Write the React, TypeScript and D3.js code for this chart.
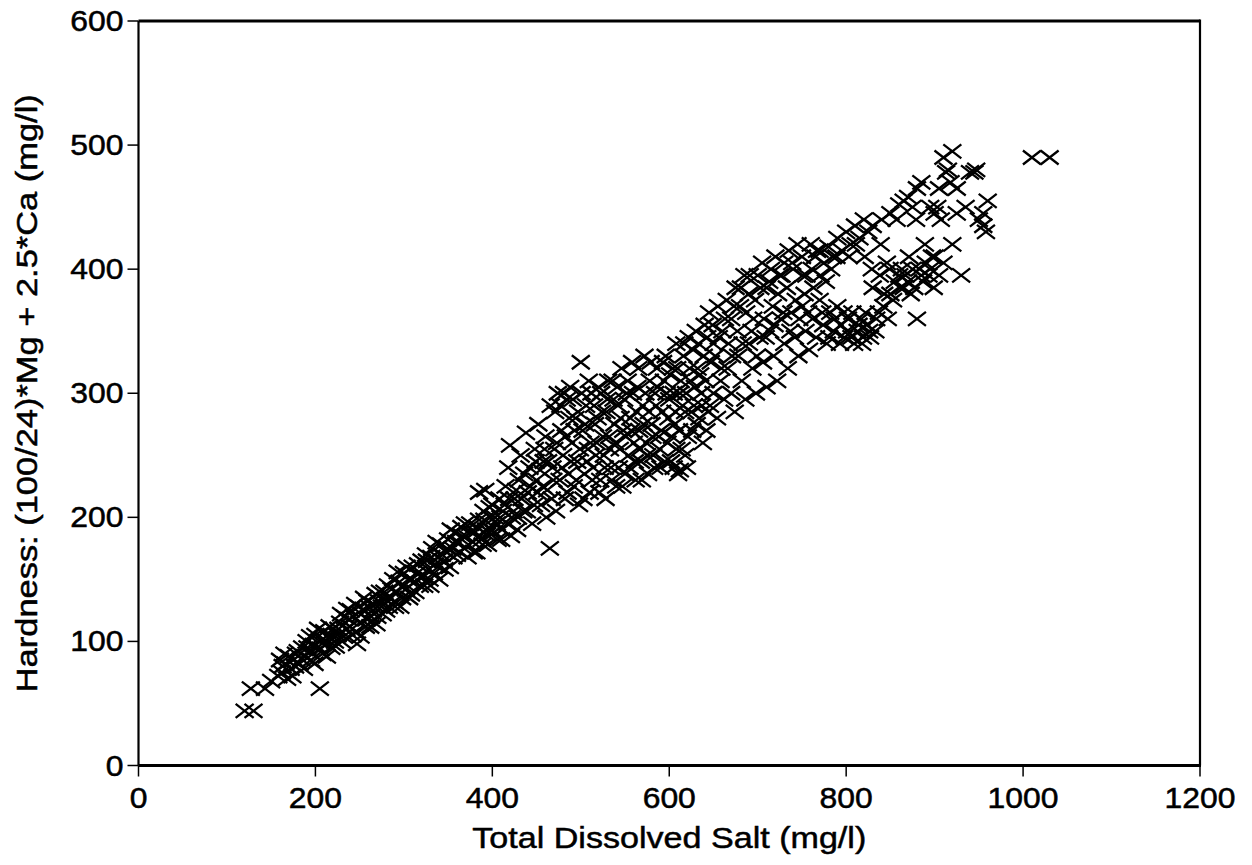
import React from "react";
import * as d3 from "d3";

const xTicks = [0, 200, 400, 600, 800, 1000, 1200];
const yTicks = [0, 100, 200, 300, 400, 500, 600];
const xTitle = "Total Dissolved Salt (mg/l)";
const yTitle = "Hardness: (100/24)*Mg + 2.5*Ca (mg/l)";

// [TDS, Hardness] samples, grouped by region
const lowerTail: [number, number][] = [
  [120,44],[130,44],[127,62],[143,62],[205,62],
  [150,68],[158,72],[163,80],[168,70],[172,78],[175,85],[170,88],[178,90],[182,82],[185,95],[188,88],[190,100],[193,92],[195,85],[198,97],[200,105],[202,95],[205,100],[208,90],[210,108],[212,98],[215,103],[218,95],[220,110],[222,100],[160,85],[165,90],
];
const lowerBand: [number, number][] = [
  [225,105],[228,115],[230,100],[233,120],[235,110],[238,118],[240,125],[242,105],[245,130],[247,98],[250,115],[252,122],[255,135],[258,118],[260,128],[262,112],[265,125],[268,138],[270,120],[272,132],[275,128],[278,140],[280,125],[282,145],[285,135],[288,150],[290,128],[292,140],[295,148],[298,135],[300,155],[302,142],[305,150],[308,138],[310,160],[312,148],[315,155],[318,145],[320,165],[322,152],[325,170],[328,158],[330,145],[332,175],[335,162],[338,168],[340,150],[342,178],[345,165],[348,172],[350,182],[352,160],[355,175],[358,188],[360,170],[362,180],[365,192],[368,175],[370,185],[372,168],[375,195],[378,180],[380,188],[382,172],[385,220],[392,222],[385,198],[388,182],[390,205],[393,190],[395,178],[398,200],[400,210],[402,188],[405,195],[408,215],[410,182],[412,205],
];
const lowerBandExtra: [number, number][] = [
  [162,75],[166,82],[174,72],[177,80],[180,92],[184,86],[187,78],[191,95],[194,104],[197,90],[199,82],[203,110],[206,94],[209,102],[213,88],[216,112],[219,104],[223,96],[226,110],[229,122],[232,104],[236,126],[239,112],[243,120],[246,108],[249,128],[251,104],[254,126],[257,112],[259,132],[263,120],[266,130],[269,114],[273,140],[276,122],[279,134],[283,128],[286,142],[289,132],[293,156],[296,128],[299,145],[303,160],[306,135],[309,150],[313,140],[316,162],[319,152],[323,145],[326,165],[329,150],[331,168],[334,155],[337,180],[339,160],[343,170],[346,158],[349,175],[353,190],[356,168],[359,180],[363,172],[366,185],[369,195],[373,178],[376,188],[379,172],[383,192],[386,185],[389,178],[391,198],[394,186],[397,208],[399,190],[403,200],[406,182],[409,200],[411,190],[414,210],[417,195],[419,215],[421,185],[424,205],[427,222],[429,200],[433,215],[436,235],[439,205],[443,225],[447,210],[449,245],[451,220],[454,238],[457,225],[459,255],[461,200],[463,245],[467,215],[469,230],
];
const middleCloud: [number, number][] = [
  [415,225],[418,240],[420,258],[422,200],[425,215],[428,190],[430,230],[432,250],[435,205],[438,268],[440,220],[442,240],[445,195],[448,255],[450,230],[452,275],[455,210],[458,245],[460,265],[462,222],[465,175],[466,290],[468,240],[470,255],[472,205],[474,300],[476,230],[478,270],[480,250],[482,215],[484,295],[486,235],[488,305],[490,260],[492,225],[494,280],[496,245],[498,210],[500,325],[502,270],[504,235],[506,290],[508,255],[510,220],[512,300],[514,240],[516,275],[518,260],[520,305],[522,230],[524,285],[526,250],[528,215],[530,295],[532,265],[534,240],[536,310],[538,275],[540,225],[542,290],[544,255],[546,320],[548,270],[550,235],[552,300],[554,250],[556,280],[558,325],[560,260],[562,230],[564,305],[566,270],[568,245],[570,290],[572,330],[574,260],[576,235],[578,310],[580,275],[582,250],[584,300],[586,320],[588,265],[590,240],[592,285],[594,310],[596,330],[598,260],[600,295],[602,245],[604,320],[606,275],[608,340],[610,235],[612,300],[614,255],[616,330],[618,285],[620,240],[622,345],[624,310],[626,270],[628,290],[630,350],[632,320],[634,280],[636,300],[638,260],[640,355],[605,240],[612,238],[618,250],[608,255],
];
const middleExtra: [number, number][] = [
  [471,285],[473,260],[477,290],[479,240],[481,300],[483,265],[485,220],[487,280],[489,245],[491,295],[493,270],[495,230],[497,285],[499,255],[501,300],[503,215],[505,275],[507,245],[509,310],[511,260],[513,230],[515,290],[517,250],[519,280],[521,220],[523,300],[525,265],[527,240],[529,285],[531,310],[533,255],[535,230],[537,295],[539,260],[541,305],[543,240],[545,280],[547,225],[549,295],[551,265],[553,310],[555,240],[557,270],[559,300],[561,245],[563,285],[565,320],[567,255],[569,230],[571,275],[573,300],[575,250],[577,285],[579,325],[581,265],[583,240],[585,290],[587,305],[589,255],[591,270],[593,325],[595,245],[597,300],[599,280],[601,315],[603,265],[605,300],[607,285],[609,320],[611,270],[613,310],[615,290],[617,340],[619,300],[621,265],[623,320],[625,285],[627,335],[629,305],[631,275],[633,340],[635,315],[637,290],[639,330],[641,310],[643,345],[644,285],[647,325],[649,355],
];
const upperStrand: [number, number][] = [
  [645,365],[650,340],[655,370],[660,350],[665,375],[670,360],[675,385],[680,370],[685,395],[690,380],[695,360],[700,395],[705,405],[710,385],[715,400],[720,410],[725,395],[730,405],[735,415],[740,400],[745,420],[750,410],[755,395],[760,420],[765,410],[770,415],[775,405],[780,418],[785,410],[790,425],[795,415],[800,430],[805,420],[810,435],[815,425],[820,440],[825,430],[830,435],[840,440],[850,445],[860,452],[865,455],[870,458],[875,450],[880,465],[885,470],[895,450],[900,445],[905,465],[910,490],[913,478],[918,470],[925,445],[935,450],[940,478],[945,478],[947,480],[955,435],[960,455],[958,430],
];
const upperExtra: [number, number][] = [
  [652,330],[656,345],[659,320],[663,360],[667,340],[671,330],[673,370],[677,350],[681,385],[683,340],[687,365],[691,395],[693,350],[697,375],[699,330],[703,385],[707,360],[709,345],[713,390],[717,370],[719,355],[723,380],[727,395],[729,365],[733,385],[737,350],[739,405],[743,375],[747,360],[751,395],[753,380],[757,365],[761,400],[763,385],[767,415],[771,395],[773,365],[777,390],[781,345],[783,400],[787,360],[789,410],[793,340],[797,365],[801,350],[803,410],[807,365],[809,340],[811,420],[813,350],[817,360],[819,345],[821,410],[823,355],[827,345],[829,400],[833,350],[837,365],[839,420],[843,380],[847,360],[849,400],[853,375],[857,440],[861,385],[863,400],[867,395],[871,410],[873,380],[877,385],[879,440],[883,400],[887,390],[889,420],[893,395],[897,410],[899,385],[903,450],[907,440],[915,480],[920,495],[925,465],
];
const lowerStrand: [number, number][] = [
  [642,270],[646,290],[650,300],[654,280],[658,310],[662,295],[666,320],[670,300],[674,285],[678,330],[682,310],[686,295],[690,340],[694,320],[698,300],[702,345],[706,325],[710,305],[714,350],[718,330],[722,310],[726,360],[730,340],[734,320],[738,365],[742,345],[746,330],[750,370],[754,350],[758,335],[762,360],[766,345],[770,375],[774,355],[778,340],[782,365],[786,350],[790,370],[794,355],[798,345],[802,360],[806,345],[814,355],[818,340],[822,365],[826,350],[830,385],[834,360],[838,395],[842,370],[846,405],[850,380],[855,390],[860,395],[865,385],[870,390],[875,400],[880,360],[885,395],[890,405],[895,400],[900,410],[905,395],[910,405],[920,420],[930,395],[950,440],[955,445],
];
const farRight: [number, number][] = [[1010,490],[1030,490]];

const allPoints = [
  ...lowerTail, ...lowerBand, ...lowerBandExtra, ...middleCloud, ...middleExtra,
  ...upperStrand, ...upperExtra, ...lowerStrand, ...farRight,
];

const W = 1252, H = 865;
const left = 138.5, right = 1200, top = 21, bottom = 765.5;
const FONT = "'Liberation Sans', Arial, sans-serif";

export default function App() {
  const x = d3.scaleLinear().domain([0, 1200]).range([left, right]);
  const y = d3.scaleLinear().domain([0, 600]).range([bottom, top]);
  const marker = "M-9,-7L9,7M-9,7L9,-7";
  const textStyle = { fontFamily: FONT, fill: "#000", stroke: "#000", strokeWidth: 0.5 };
  return (
    <svg width={W} height={H} style={{ position: "absolute", left: 0, top: 0, background: "#fff" }}>
      <rect width={W} height={H} fill="#fff" />
      <g>
        {allPoints.map(([a, b], i) => (
          <path key={i} d={marker} transform={`translate(${x(a)},${y(b)})`} stroke="#000" strokeWidth={2.3} fill="none" />
        ))}
      </g>
      {/* frame */}
      <line x1={left} x2={right} y1={top} y2={top} stroke="#000" strokeWidth={3} />
      <line x1={left} x2={right + 1} y1={bottom} y2={bottom} stroke="#000" strokeWidth={3} />
      <line x1={left} x2={left} y1={top} y2={bottom} stroke="#000" strokeWidth={2.2} />
      <line x1={right} x2={right} y1={top - 1.5} y2={bottom} stroke="#000" strokeWidth={2.2} />
      {xTicks.map((t) => (
        <g key={"x" + t}>
          <line x1={x(t)} x2={x(t)} y1={bottom} y2={bottom + 11} stroke="#000" strokeWidth={1.5} />
          <text transform={`translate(${x(t)},${bottom + 42}) scale(1.1,1)`} textAnchor="middle" fontSize={29} style={textStyle}>{t}</text>
        </g>
      ))}
      {yTicks.map((t) => (
        <g key={"y" + t}>
          <line x1={left - 11} x2={left} y1={y(t)} y2={y(t)} stroke="#000" strokeWidth={1.5} />
          <text transform={`translate(${left - 15},${y(t) + 10}) scale(1.1,1)`} textAnchor="end" fontSize={29} style={textStyle}>{t}</text>
        </g>
      ))}
      <text x={(left + right) / 2} y={848} textAnchor="middle" fontSize={30} textLength={394} lengthAdjust="spacingAndGlyphs" style={textStyle}>{xTitle}</text>
      <text transform={`translate(37,${(top + bottom) / 2}) rotate(-90)`} textAnchor="middle" fontSize={30} textLength={598} lengthAdjust="spacingAndGlyphs" style={textStyle}>{yTitle}</text>
    </svg>
  );
}
